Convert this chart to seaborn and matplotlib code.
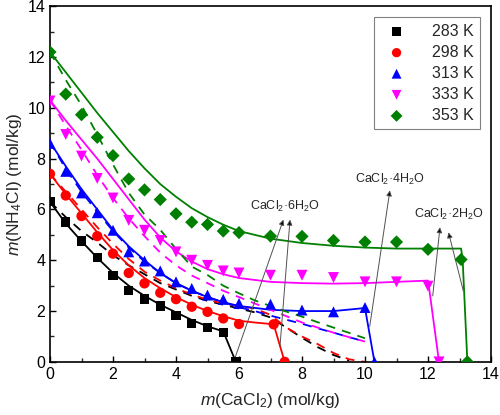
import matplotlib
matplotlib.use("Agg")
import matplotlib.pyplot as plt
import seaborn as sns
import numpy as np
import pandas as pd

# experimental points
x_283 = [0, 0.5, 1, 1.5, 2, 2.5, 3, 3.5, 4, 4.5, 5, 5.5, 5.9]
y_283 = [6.3, 5.5, 4.76, 4.1, 3.41, 2.8, 2.47, 2.2, 1.82, 1.51, 1.35, 1.15, 0]
x_298 = [0, 0.5, 1, 1.5, 2, 2.5, 3, 3.5, 4, 4.5, 5, 5.5, 6, 7.1, 7.45]
y_298 = [7.4, 6.55, 5.74, 4.95, 4.26, 3.5, 3.09, 2.72, 2.47, 2.17, 1.97, 1.71, 1.49, 1.48, 0]
x_313 = [0, 0.5, 1, 1.5, 2, 2.5, 3, 3.5, 4, 4.5, 5, 5.5, 6, 7, 8, 9, 10, 10.3]
y_313 = [8.6, 7.5, 6.65, 5.87, 5.18, 4.33, 3.97, 3.58, 3.15, 2.89, 2.63, 2.46, 2.3, 2.27, 2.04, 1.97, 2.14, 0]
x_333 = [0, 0.5, 1, 1.5, 2, 2.5, 3, 3.5, 4, 4.5, 5, 5.5, 6, 7, 8, 9, 10, 11, 12, 12.35]
y_333 = [10.27, 8.95, 8.1, 7.22, 6.45, 5.57, 5.18, 4.78, 4.33, 4.0, 3.8, 3.58, 3.5, 3.41, 3.41, 3.32, 3.15, 3.15, 2.98, 0]
x_353 = [0, 0.5, 1, 1.5, 2, 2.5, 3, 3.5, 4, 4.5, 5, 5.5, 6, 7, 8, 9, 10, 11, 12, 13.05, 13.25]
y_353 = [12.2, 10.54, 9.73, 8.84, 8.12, 7.2, 6.77, 6.39, 5.83, 5.5, 5.41, 5.15, 5.09, 4.95, 4.94, 4.78, 4.72, 4.72, 4.43, 4.03, 0]

# model curves (solid)
sx_283 = [0, 0.5, 1, 1.5, 2, 2.5, 3, 3.5, 4, 4.5, 5, 5.5, 5.9]
sy_283 = [6.3, 5.45, 4.75, 4.1, 3.5, 3.0, 2.6, 2.25, 1.95, 1.65, 1.4, 1.2, 0]
sx_298 = [0, 0.5, 1, 1.5, 2, 2.5, 3, 3.5, 4, 4.5, 5, 5.5, 6, 6.5, 7.1, 7.45]
sy_298 = [7.4, 6.6, 5.85, 5.1, 4.4, 3.8, 3.3, 2.9, 2.55, 2.25, 2.0, 1.8, 1.62, 1.55, 1.48, 0]
sx_313 = [0, 0.5, 1, 1.5, 2, 2.5, 3, 3.5, 4, 4.5, 5, 5.5, 6, 7, 8, 9, 10, 10.3]
sy_313 = [8.65, 7.7, 6.8, 6.0, 5.2, 4.55, 4.0, 3.5, 3.1, 2.8, 2.55, 2.35, 2.2, 2.05, 2.0, 2.0, 2.12, 0]
sx_333 = [0, 0.5, 1, 1.5, 2, 2.5, 3, 3.5, 4, 4.5, 5, 5.5, 6, 7, 8, 9, 10, 11, 12, 12.03, 12.35]
sy_333 = [10.3, 9.5, 8.75, 8.0, 7.2, 6.4, 5.6, 4.9, 4.35, 3.95, 3.65, 3.45, 3.3, 3.15, 3.1, 3.08, 3.1, 3.15, 3.2, 2.95, 0]
sx_353 = [0, 0.5, 1, 1.5, 2, 2.5, 3, 3.5, 4, 4.5, 5, 5.5, 6, 6.5, 7, 8, 9, 10, 11, 12, 13.05, 13.1, 13.25]
sy_353 = [12.2, 11.4, 10.6, 9.8, 9.05, 8.3, 7.62, 7.0, 6.5, 6.05, 5.7, 5.4, 5.15, 5.0, 4.85, 4.68, 4.57, 4.5, 4.46, 4.46, 4.46, 4.03, 0]

# second model (dashed)
dx = [0, 0.5, 1, 1.5, 2, 2.5, 3, 3.5, 4, 4.5, 5, 5.5, 6, 6.5, 7, 7.5, 8, 8.5, 9, 9.5, 10]
dy_283 = [6.3, 5.7, 5.15, 4.7, 4.2, 3.8, 3.45, 3.1, 2.85, 2.6, 2.4, 2.25, 2.1, 1.95, 1.75, 1.35, 0.95, 0.58, 0.27, 0.05, None]
dy_298 = [7.4, 6.7, 6.0, 5.3, 4.65, 4.05, 3.55, 3.2, 2.9, 2.65, 2.45, 2.3, 2.2, 2.1, 1.85, 1.35, 1.0, 0.7, 0.35, 0.1, 0.0]
dy_313 = [8.65, 7.6, 6.7, 5.9, 5.15, 4.5, 3.95, 3.5, 3.1, 2.8, 2.55, 2.35, 2.15, 2.0, 1.82, 1.66, 1.5, 1.32, 1.15, 0.97, 0.8]
dy_333 = [10.3, 9.3, 8.35, 7.35, 6.45, 5.65, 4.95, 4.3, 3.8, 3.4, 3.1, 2.8, 2.55, 2.3, 2.05, 1.8, 1.55, 1.35, 1.15, 0.97, 0.8]
dy_353 = [12.2, 11.1, 10.1, 8.95, 7.77, 6.65, 5.8, 5.2, 4.45, 3.75, 3.42, 3.0, 2.7, 2.42, 2.2, 1.98, 1.78, 1.56, 1.35, 1.14, 0.93]

labels = ['283 K', '298 K', '313 K', '333 K', '353 K']
colors = ['black', '#ff0000', '#0000ff', '#ff00ff', '#008000']
markers = ['s', 'o', '^', 'v', 'D']
msizes = [45, 55, 62, 62, 45]

points = [(x_283, y_283), (x_298, y_298), (x_313, y_313), (x_333, y_333), (x_353, y_353)]
solid = [(sx_283, sy_283), (sx_298, sy_298), (sx_313, sy_313), (sx_333, sy_333), (sx_353, sy_353)]
dashed = [dy_283, dy_298, dy_313, dy_333, dy_353]

sns.set_theme(style="ticks")
plt.rcParams['font.family'] = ['Liberation Sans', 'DejaVu Sans']
plt.rcParams['mathtext.fontset'] = 'custom'
plt.rcParams['mathtext.rm'] = 'Liberation Sans'
plt.rcParams['mathtext.it'] = 'Liberation Sans:italic'
plt.rcParams['xtick.direction'] = 'in'
plt.rcParams['ytick.direction'] = 'in'

fig = plt.figure(figsize=(5, 4.15), dpi=100)
ax = fig.add_axes([0.1, 0.128, 0.882, 0.857])

for i in range(5):
    c = colors[i]
    d = pd.DataFrame({'x': dx, 'y': dashed[i]}).dropna()
    sns.lineplot(data=d, x='x', y='y', ax=ax, color=c, lw=1.3, ls=(0, (5, 4)),
                 sort=False, estimator=None, legend=False)
    s = pd.DataFrame({'x': solid[i][0], 'y': solid[i][1]})
    sns.lineplot(data=s, x='x', y='y', ax=ax, color=c, lw=1.3,
                 sort=False, estimator=None, legend=False)

for i in range(5):
    p = pd.DataFrame({'x': points[i][0], 'y': points[i][1]})
    sns.scatterplot(data=p, x='x', y='y', ax=ax, color=colors[i], marker=markers[i],
                    s=msizes[i], edgecolor='none', label=labels[i], zorder=5)

# markers on the axes are cut by the frame, as in the original
for coll in ax.collections:
    coll.set_clip_on(True)
    coll.set_clip_box(ax.bbox)

# hydrate annotations
ann = [
    ('CaCl$_2$·6H$_2$O', (7.45, 6.1), [(5.87, 0.15), (7.3, 0.6)], [(7.41, 5.6), (7.62, 5.6)]),
    ('CaCl$_2$·4H$_2$O', (10.8, 7.2), [(10.15, 1.4)], [(10.79, 6.75)]),
    ('CaCl$_2$·2H$_2$O', (12.65, 5.8), [(12.15, 2.6), (13.12, 2.8)], [(12.38, 5.3), (12.65, 5.1)]),
]
for txt, pos, tails, heads in ann:
    ax.text(pos[0], pos[1], txt, fontsize=9, ha='center', va='center', zorder=6)
    for t, h in zip(tails, heads):
        ax.annotate('', xy=h, xytext=t,
                    arrowprops=dict(arrowstyle='-|>', color='#505050', lw=0.7,
                                    mutation_scale=8, shrinkA=0, shrinkB=0,
                                    fc='black'))

ax.set_xlim(0, 14)
ax.set_ylim(0, 14)
ax.set_xticks(np.arange(0, 15, 2))
ax.set_yticks(np.arange(0, 15, 2))
ax.set_xticks(np.arange(1, 14, 2), minor=True)
ax.set_yticks(np.arange(1, 14, 2), minor=True)
ax.tick_params(which='major', length=4, width=1, labelsize=11.5, colors='black')
ax.tick_params(which='minor', length=3, width=1)
for sp in ax.spines.values():
    sp.set_linewidth(1.2)
    sp.set_color('black')

ax.set_xlabel('$m$(CaCl$_2$) (mol/kg)', fontsize=12.5, labelpad=7)
ax.set_ylabel('$m$(NH$_4$Cl) (mol/kg)', fontsize=12.5, labelpad=2)

leg = ax.legend(loc='upper right', fontsize=11.5, frameon=True, fancybox=False,
                edgecolor='#808080', framealpha=1, borderaxespad=0.7,
                labelspacing=0.38, handletextpad=1.2, borderpad=0.4, markerscale=0.9)
leg.get_frame().set_linewidth(0.8)

fig.savefig('out.png', dpi=100)
